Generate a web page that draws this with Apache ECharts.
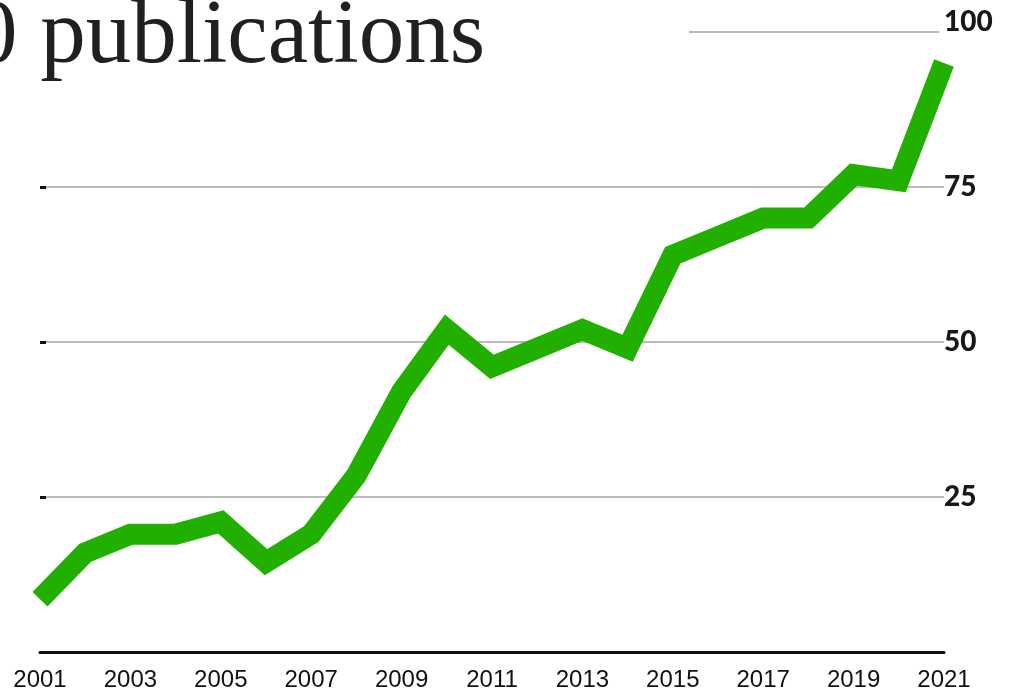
<!DOCTYPE html>
<html>
<head>
<meta charset="utf-8">
<script src="https://cdn.jsdelivr.net/npm/echarts@6/dist/echarts.min.js"></script>
<style>
  html, body { margin: 0; padding: 0; background: #fff; }
  #chart { width: 1011px; height: 693px; }
</style>
</head>
<body>
<div id="chart"></div>
<script>
  // years and publication counts
  var years = [2001, 2002, 2003, 2004, 2005, 2006, 2007, 2008, 2009, 2010, 2011,
               2012, 2013, 2014, 2015, 2016, 2017, 2018, 2019, 2020, 2021];
  var counts = [8.5, 16, 19, 19, 21, 14.5, 19, 28.5, 42, 52, 46,
                49, 52, 49, 64, 67, 70, 70, 77, 76, 95];
  var yTicks = [0, 25, 50, 75, 100];
  var titleText = '0 publications';

  var chart = echarts.init(document.getElementById('chart'));

  var seriesData = years.map(function (y, i) { return [y, counts[i]]; });

  chart.setOption({
    animation: false,
    backgroundColor: '#fff',
    title: {
      text: titleText,
      left: -28,
      top: -7,
      padding: 0,
      textStyle: {
        fontFamily: 'Liberation Serif',
        fontSize: 91,
        fontWeight: 'normal',
        color: '#231f20'
      }
    },
    grid: { left: 40, right: 67, top: 32, bottom: 41 },
    xAxis: {
      type: 'value',
      min: years[0],
      max: years[years.length - 1],
      interval: 2,
      axisLine: { show: true, lineStyle: { color: '#111', width: 3 } },
      axisTick: { show: false },
      splitLine: { show: false },
      axisLabel: {
        formatter: function (v) { return String(v); },
        fontFamily: 'Liberation Sans',
        fontSize: 24,
        color: '#111',
        margin: 16
      }
    },
    yAxis: [{
      type: 'value',
      position: 'right',
      min: yTicks[0],
      max: yTicks[yTicks.length - 1],
      interval: 25,
      axisLine: { show: false },
      axisTick: { show: false },
      splitLine: {
        show: true,
        lineStyle: { color: ['#bbb', '#bbb', '#bbb', '#bbb', 'rgba(0,0,0,0)'], width: 2 }
      },
      axisLabel: {
        margin: 0,
        align: 'left',
        formatter: function (v) {
          if (v === 0) return '';
          return v === 100 ? '{t|' + v + '}' : String(v);
        },
        fontFamily: 'Lato',
        fontWeight: 900,
        fontSize: 28,
        color: '#1a1718',
        rich: {
          t: { fontFamily: 'Lato', fontWeight: 900, fontSize: 28, color: '#1a1718', padding: [0, 0, 20, 0] }
        }
      }
    }, {
      type: 'value',
      position: 'left',
      min: yTicks[0],
      max: yTicks[yTicks.length - 1],
      interval: 25,
      axisLine: { show: false },
      axisLabel: { show: false },
      splitLine: { show: false },
      axisTick: {
        show: true,
        inside: true,
        length: 6,
        customValues: [25, 50, 75],
        lineStyle: { color: '#111', width: 3 }
      }
    }],
    series: [{
      type: 'line',
      data: seriesData,
      showSymbol: false,
      silent: true,
      z: 5,
      lineStyle: { color: '#22b000', width: 21, cap: 'butt', join: 'miter' },
      markLine: {
        silent: true,
        symbol: 'none',
        label: { show: false },
        lineStyle: { color: '#bbb', width: 2, type: 'solid' },
        data: [[{ coord: [2015.36, 100] }, { coord: [2020.9, 100] }]]
      }
    }]
  });
</script>
</body>
</html>
